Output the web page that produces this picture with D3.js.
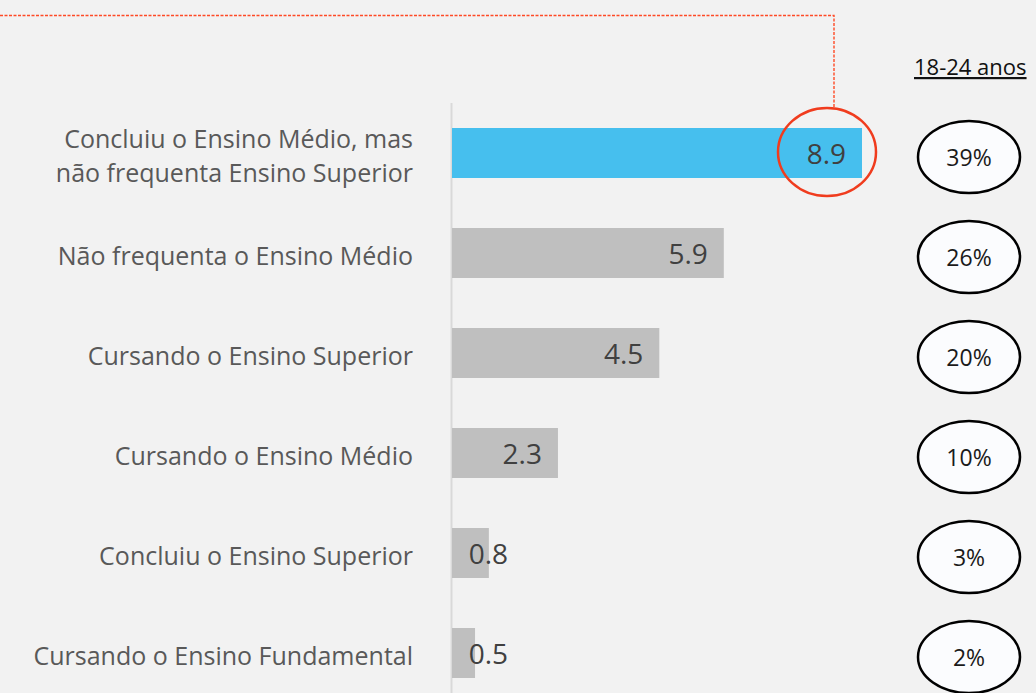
<!DOCTYPE html>
<html>
<head>
<meta charset="utf-8">
<script src="https://cdn.jsdelivr.net/npm/d3@7"></script>
<style>
  body { margin: 0; background: #f2f2f2; }
  svg { display: block; }
</style>
</head>
<body>
<div id="chart"></div>
<script>
// Dados (milhões de jovens 18-24 anos por situação escolar)
const categorias = [
  ['Concluiu o Ensino Médio, mas', 'não frequenta Ensino Superior'],
  ['Não frequenta o Ensino Médio'],
  ['Cursando o Ensino Superior'],
  ['Cursando o Ensino Médio'],
  ['Concluiu o Ensino Superior'],
  ['Cursando o Ensino Fundamental']
];
const valores = [8.9, 5.9, 4.5, 2.3, 0.8, 0.5];
const percentuais = ['39%', '26%', '20%', '10%', '3%', '2%'];
const tituloColuna = '18-24 anos';

const W = 1036, H = 693;
const svg = d3.select('#chart').append('svg')
  .attr('width', W).attr('height', H);

svg.append('rect').attr('width', W).attr('height', H).attr('fill', '#f2f2f2');

// Escalas
const x = d3.scaleLinear().domain([0, 8.9]).range([452, 862]);
const y = d3.scaleBand()
  .domain(d3.range(valores.length))
  .range([103, 703])
  .paddingInner(0.5)
  .paddingOuter(0.25);

const fonte = '"Open Sans", "Noto Sans", sans-serif';

// Linha do eixo
svg.append('line')
  .attr('x1', 451.5).attr('x2', 451.5)
  .attr('y1', 103).attr('y2', H)
  .attr('stroke', '#d9d9d9').attr('stroke-width', 2);

// Barras
svg.selectAll('.bar')
  .data(valores)
  .enter()
  .append('rect')
  .attr('class', 'bar')
  .attr('x', x(0))
  .attr('y', (d, i) => y(i))
  .attr('width', d => x(d) - x(0))
  .attr('height', y.bandwidth())
  .attr('fill', (d, i) => i === 0 ? '#46bfee' : '#bfbfbf');

// Valores nas barras
svg.selectAll('.valor')
  .data(valores)
  .enter()
  .append('text')
  .attr('class', 'valor')
  .attr('x', d => Math.max(x(d) - 16, 508))
  .attr('y', (d, i) => y(i) + y.bandwidth() / 2 + 11)
  .attr('text-anchor', 'end')
  .style('font-family', fonte)
  .style('font-size', '28px')
  .style('fill', '#404040')
  .text(d => d.toFixed(1));

// Rótulos das categorias
categorias.forEach((linhas, i) => {
  const cy = y(i) + y.bandwidth() / 2;
  const t = svg.append('text')
    .attr('text-anchor', 'end')
    .style('font-family', fonte)
    .style('font-size', '25px')
    .style('fill', '#595959');
  linhas.forEach((l, j) => {
    t.append('tspan')
      .attr('x', 413)
      .attr('y', cy + 12 + (j - (linhas.length - 1) / 2) * 34)
      .text(l);
  });
});

// Destaque: linha tracejada e círculo vermelho
const cxDestaque = x(valores[0]) - 28;
svg.append('path')
  .attr('d', `M0,15.5 H${cxDestaque} V107`)
  .attr('fill', 'none')
  .attr('stroke', '#ff4a26')
  .attr('stroke-width', 1.4)
  .attr('stroke-dasharray', '3,1.5');

svg.append('ellipse')
  .attr('cx', cxDestaque - 7)
  .attr('cy', y(0) + y.bandwidth() / 2 - 1)
  .attr('rx', 49)
  .attr('ry', 44)
  .attr('fill', 'none')
  .attr('stroke', '#f03c1e')
  .attr('stroke-width', 2.5);

// Coluna de percentuais
svg.append('text')
  .attr('x', 914).attr('y', 75)
  .attr('text-anchor', 'start')
  .style('font-family', fonte)
  .style('font-size', '22px')
  .style('text-decoration', 'underline')
  .style('fill', '#111')
  .text(tituloColuna);

percentuais.forEach((p, i) => {
  const cy = y(i) + y.bandwidth() / 2 + 4;
  svg.append('ellipse')
    .attr('cx', 969).attr('cy', cy)
    .attr('rx', 51).attr('ry', 36)
    .attr('fill', '#fbfcfe')
    .attr('stroke', '#000')
    .attr('stroke-width', 2.5);
  svg.append('text')
    .attr('x', 969).attr('y', cy + 9)
    .attr('text-anchor', 'middle')
    .style('font-family', fonte)
    .style('font-size', '23px')
    .style('fill', '#1a1a1a')
    .text(p);
});
</script>
</body>
</html>
